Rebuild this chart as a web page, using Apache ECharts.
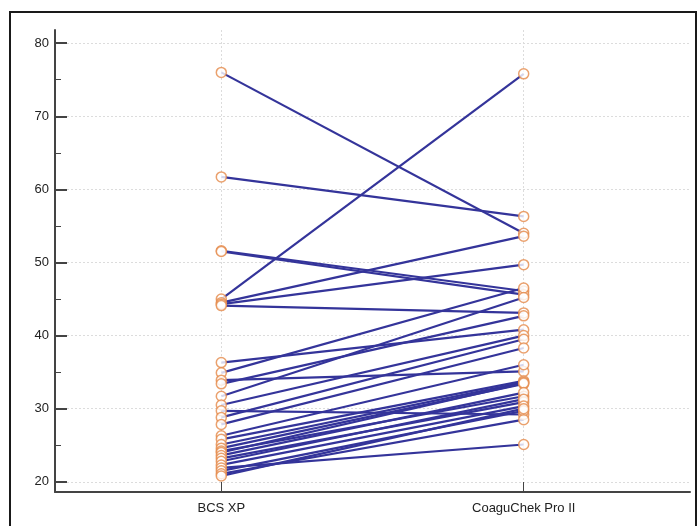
<!DOCTYPE html>
<html>
<head>
<meta charset="utf-8">
<script src="https://cdn.jsdelivr.net/npm/echarts@6/dist/echarts.min.js"></script>
<style>
  html, body { margin: 0; padding: 0; background: #fff; }
  #chart { width: 699px; height: 526px; }
</style>
</head>
<body>
<div id="chart"></div>
<script>
// Paired measurements: BCS XP vs CoaguChek Pro II
const methods = ['BCS XP', 'CoaguChek Pro II'];
const bcsXp = [76.0, 61.7, 51.6, 51.5, 45.0, 44.5, 44.3, 44.1, 36.3, 34.9, 33.9, 33.4, 31.7,
               30.5, 29.7, 28.8, 27.85, 26.3, 25.8, 25.1, 24.6, 24.2, 24.0, 23.6, 23.2, 22.8,
               22.3, 21.9, 21.5, 21.1, 20.8];
const coaguChek = [54.0, 56.3, 46.1, 45.6, 75.8, 53.6, 49.7, 43.1, 40.8, 46.5, 35.1, 42.7, 45.2,
                   40.0, 29.2, 39.5, 38.3, 36.0, 33.8, 33.6, 33.4, 31.7, 33.5, 32.2, 30.9, 31.3,
                   30.35, 25.1, 29.7, 28.5, 30.0];
const majorTicks = [20, 30, 40, 50, 60, 70, 80];
const minorTicks = [25, 35, 45, 55, 65, 75];

const LINE = '#34349a';
const DOT = '#e5894a';

const lineSeries = bcsXp.map((v, i) => ({
    type: 'line',
    data: [[1, v], [2, coaguChek[i]]],
    showSymbol: false,
    lineStyle: { color: LINE, width: 2.2 },
    z: 2,
    silent: true
}));

const dots = [];
bcsXp.forEach(v => dots.push([1, v]));
coaguChek.forEach(v => dots.push([2, v]));

const chart = echarts.init(document.getElementById('chart'));
chart.setOption({
    animation: false,
    backgroundColor: '#ffffff',
    grid: { left: 55, right: 9, top: 30, bottom: 34 },
    graphic: [{
        type: 'rect',
        shape: { x: 10, y: 12, width: 686, height: 530 },
        style: { fill: 'none', stroke: '#1a1a1a', lineWidth: 2 },
        silent: true
    }],
    xAxis: {
        type: 'value',
        min: 0.45,
        max: 2.55,
        axisLine: { lineStyle: { color: '#444', width: 2 } },
        axisTick: { inside: true, length: 10, customValues: [1, 2], lineStyle: { color: '#444', width: 1 } },
        axisLabel: {
            customValues: [1, 2],
            formatter: v => methods[Math.round(v) - 1],
            color: '#222', fontSize: 13, fontFamily: 'Liberation Sans', margin: 10
        },
        splitLine: { show: true, lineStyle: { color: '#dcdcdc', type: [2, 2] } }
    },
    yAxis: [{
        type: 'value',
        min: 18.6,
        max: 81.8,
        axisLine: { show: true, lineStyle: { color: '#444', width: 2 } },
        axisTick: { inside: true, length: 12, customValues: majorTicks, lineStyle: { color: '#444', width: 2 } },
        axisLabel: { customValues: majorTicks, color: '#222', fontSize: 13, fontFamily: 'Liberation Sans', margin: 6 },
        splitLine: { show: true, lineStyle: { color: '#dcdcdc', type: [2, 2] } }
    }, {
        type: 'value',
        min: 18.6,
        max: 81.8,
        position: 'left',
        axisLine: { show: false },
        axisTick: { show: true, inside: true, length: 6, customValues: minorTicks, lineStyle: { color: '#444', width: 1 } },
        axisLabel: { show: false },
        splitLine: { show: false }
    }],
    series: lineSeries.concat([{
        type: 'scatter',
        data: dots,
        symbol: 'circle',
        symbolSize: 10,
        itemStyle: { color: '#ffffff', borderColor: DOT, borderWidth: 1.5 },
        z: 5,
        silent: true
    }])
});
</script>
</body>
</html>
